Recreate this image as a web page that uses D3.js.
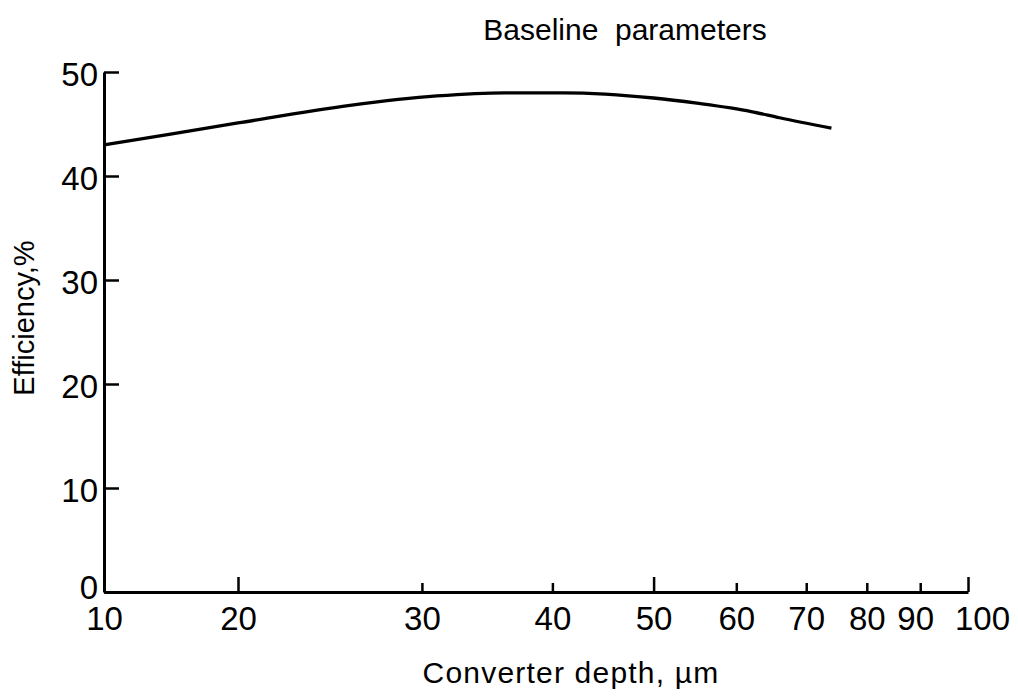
<!DOCTYPE html>
<html>
<head>
<meta charset="utf-8">
<script src="https://cdn.jsdelivr.net/npm/d3@7"></script>
<style>
  body { margin: 0; background: #fff; }
  text { font-family: "Liberation Sans", Arial, Helvetica, sans-serif; fill: #000; }
</style>
</head>
<body>
<svg id="chart" width="1018" height="700"></svg>
<script>
// values
var depth = [10, 14, 20, 25.6, 31, 36, 41, 50, 55, 62, 66, 74];
var efficiency = [43.0, 44.0, 45.1, 46.8, 47.7, 48.0, 48.0, 47.5, 47.0, 46.2, 45.6, 44.6];
var xTicks = [10, 20, 30, 40, 50, 60, 70, 80, 90, 100];
var xMajor = [20, 50, 100];
var yTicks = [0, 10, 20, 30, 40, 50];

var svg = d3.select("#chart");

// the original axis is squeezed between 10 and 20, log above that
var x = d3.scaleLog()
    .domain([10, 20, 100])
    .range([104, 238, 968]);

var y = d3.scaleLinear()
    .domain([0, 50])
    .range([592, 72]);

// y axis, ticks pointing inward
var yAxis = svg.append("g")
    .attr("transform", "translate(104,0)")
    .call(d3.axisLeft(y).tickValues(yTicks).tickSizeInner(-15).tickSizeOuter(0).tickPadding(6));

yAxis.select(".domain").attr("stroke-width", 3);
yAxis.selectAll(".tick line").attr("stroke-width", 2.5);
yAxis.selectAll(".tick text")
    .style("font-size", "33px")
    .attr("dy", function(d) { return d == 0 ? "0.2em" : "0.4em"; });

// x axis
var xAxis = svg.append("g")
    .attr("transform", "translate(0,592)")
    .call(d3.axisBottom(x).tickValues(xTicks).tickFormat(d3.format("d")).tickSizeInner(-8).tickSizeOuter(0).tickPadding(15));

xAxis.select(".domain").attr("stroke-width", 3);
xAxis.selectAll(".tick line")
    .attr("stroke-width", 2.5)
    .attr("y2", function(d) {
        return xMajor.indexOf(d) >= 0 ? -15 : (d == 10 ? 0 : -9);
    });
xAxis.selectAll(".tick text")
    .style("font-size", "33px")
    .attr("dx", function(d) { return d == 100 ? 14 : (d == 90 ? -5 : 0); });

// curve
var line = d3.line()
    .x(function(d, i) { return x(depth[i]); })
    .y(function(d) { return y(d); })
    .curve(d3.curveMonotoneX);

svg.append("path")
    .datum(efficiency)
    .attr("d", line)
    .attr("fill", "none")
    .attr("stroke", "#000")
    .attr("stroke-width", 3.3)
    .attr("stroke-linejoin", "round");

// titles
svg.append("text")
    .attr("x", 625)
    .attr("y", 40)
    .attr("text-anchor", "middle")
    .style("font-size", "30px")
    .attr("xml:space", "preserve")
    .text("Baseline  parameters");

svg.append("text")
    .attr("x", 571)
    .attr("y", 683)
    .attr("text-anchor", "middle")
    .style("font-size", "30px")
    .style("letter-spacing", "1.2px")
    .text("Converter depth, \u00b5m");

svg.append("text")
    .attr("transform", "translate(34,318) rotate(-90)")
    .attr("text-anchor", "middle")
    .style("font-size", "29px")
    .text("Efficiency,%");
</script>
</body>
</html>
